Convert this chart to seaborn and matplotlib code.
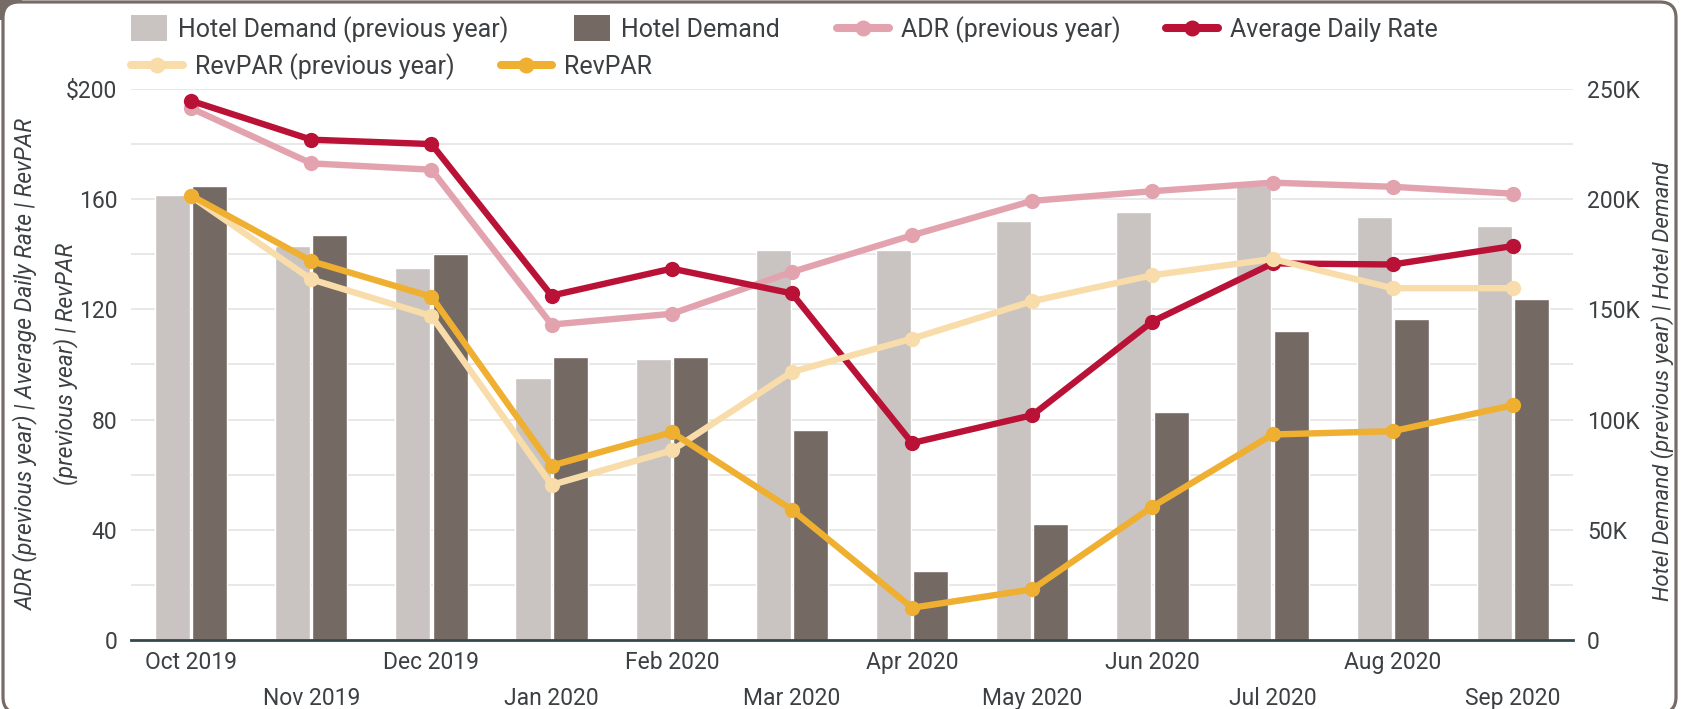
import numpy as np
import pandas as pd
import seaborn as sns
import matplotlib.pyplot as plt
from matplotlib.lines import Line2D
from matplotlib.patches import FancyBboxPatch, Rectangle
from matplotlib.transforms import IdentityTransform
from matplotlib.ticker import FixedLocator, FuncFormatter

months = ['Oct 2019', 'Nov 2019', 'Dec 2019', 'Jan 2020', 'Feb 2020', 'Mar 2020',
          'Apr 2020', 'May 2020', 'Jun 2020', 'Jul 2020', 'Aug 2020', 'Sep 2020']
demandPrev = [201700, 178700, 169000, 119000, 127400, 177000,
              176800, 190000, 194000, 206500, 191900, 188000]
demand = [206000, 183600, 175300, 128400, 128400, 95200,
          31300, 52700, 103500, 140000, 145500, 154800]
adrPrev = [193, 173, 170.7, 114.5, 118.4, 133.6, 146.9, 159.4, 162.9, 166, 164.5, 162]
adr = [195.7, 181.6, 180, 125, 134.8, 125.8, 71.5, 81.6, 115.6, 136.7, 136.3, 143]
revparPrev = [161, 130.9, 117.6, 56.3, 68.8, 97.3, 109.4, 123, 132.4, 138.3, 127.7, 127.7]
revpar = [161.3, 137.5, 124.6, 63.3, 75.4, 47.3, 11.7, 18.4, 48.4, 74.6, 75.8, 85.2]

barNames = ['Hotel Demand (previous year)', 'Hotel Demand']
lineNames = ['ADR (previous year)', 'Average Daily Rate', 'RevPAR (previous year)', 'RevPAR']

barColors = ['#c9c4c1', '#746963']
lineColors = ['#e3a3ae', '#b91236', '#f8ddab', '#efaf30']
textColor = '#3c4043'
frameColor = '#776b65'

sns.set_style('white')
plt.rcParams['font.family'] = ['Roboto', 'DejaVu Sans']

bars = pd.DataFrame({
    'month': months * 2,
    'series': [barNames[0]] * len(months) + [barNames[1]] * len(months),
    'value': demandPrev + demand,
})
lines = pd.DataFrame({
    'pos': list(range(len(months))) * 4,
    'series': sum([[n] * len(months) for n in lineNames], []),
    'value': adrPrev + adr + revparPrev + revpar,
})

fig = plt.figure(figsize=(16.87, 7.09), dpi=100)
fig.patch.set_facecolor('white')

# card frame
fig.add_artist(Rectangle((0, 689), 22, 20, transform=IdentityTransform(),
                         facecolor=frameColor, edgecolor='none', zorder=0))
fig.add_artist(FancyBboxPatch((3, -4), 1673, 711, boxstyle='round,pad=0,rounding_size=16',
                              transform=IdentityTransform(), facecolor='white',
                              edgecolor=frameColor, linewidth=2.3, zorder=0.5))

ax = fig.add_axes([0.0777, 0.0973, 0.8547, 0.7772])
ax2 = ax.twinx()

sns.barplot(data=bars, x='month', y='value', hue='series', palette=barColors,
            width=0.62, gap=0.06, saturation=1, ax=ax2, legend=False)

for name, color in zip(lineNames, lineColors):
    sns.lineplot(data=lines[lines['series'] == name], x='pos', y='value', color=color,
                 linewidth=4.6, marker='o', markersize=11, markeredgewidth=0, ax=ax)

ax.set_zorder(2)
ax2.set_zorder(1)
ax.patch.set_visible(False)

ax.set_xlim(-0.5, len(months) - 0.5)
ax.set_ylim(0, 200)
ax2.set_ylim(0, 250000)

ax.set_xticks(range(len(months)))
ax.set_xticklabels([m if i % 2 == 0 else '\n' + m for i, m in enumerate(months)])
for t in ax.get_xticklabels():
    t.set_linespacing(1.7)

ax.set_yticks([0, 40, 80, 120, 160, 200])
ax.yaxis.set_major_formatter(FuncFormatter(lambda v, p: '$200' if v == 200 else f'{v:.0f}'))
ax2.yaxis.set_major_locator(FixedLocator([0, 50000, 100000, 150000, 200000, 250000]))
ax2.yaxis.set_minor_locator(FixedLocator([25000, 75000, 125000, 175000, 225000]))
ax2.yaxis.set_major_formatter(FuncFormatter(lambda v, p: '0' if v == 0 else f'{v / 1000:.0f}K'))

ax.grid(False)
ax2.grid(False)
ax2.yaxis.grid(True, which='both', color='#e6e6e6', linewidth=1.3)
ax2.set_axisbelow(True)

for a in (ax, ax2):
    for s in a.spines.values():
        s.set_visible(False)
ax.spines['bottom'].set_visible(True)
ax.spines['bottom'].set_color('#37474f')
ax.spines['bottom'].set_linewidth(2)

ax.tick_params(axis='x', length=0, labelsize=16.5, labelcolor=textColor, pad=8)
ax.tick_params(axis='y', length=0, labelsize=16.5, labelcolor=textColor, pad=10)
ax2.tick_params(axis='y', which='both', length=0, labelsize=16.5, labelcolor=textColor, pad=10)

ax.set_xlabel('')
ax.set_ylabel('ADR (previous year) | Average Daily Rate | RevPAR\n(previous year) | RevPAR',
              fontsize=16.5, style='italic', color=textColor, linespacing=1.75)
ax.yaxis.set_label_coords(-0.037, 0.5)
ax2.set_ylabel('Hotel Demand (previous year) | Hotel Demand',
               fontsize=16, style='italic', color=textColor)
ax2.yaxis.set_label_coords(1.054, 0.47)

barVerts = [(-1.375, -1), (1.375, -1), (1.375, 1), (-1.375, 1), (-1.375, -1)]
barHandles = [Line2D([], [], marker=barVerts, markersize=25.6, linestyle='none',
                     color=c, markeredgewidth=0) for c in barColors]
lineHandles = [Line2D([], [], color=c, linewidth=5.8, marker='o', markersize=11.5,
                      markeredgewidth=0) for c in lineColors]

legendOpts = dict(loc='center left', frameon=False, fontsize=18,
                  handletextpad=0.47, borderaxespad=0, borderpad=0,
                  labelcolor=textColor, numpoints=1)
fig.legend(handles=barHandles, labels=barNames, ncol=2, handlelength=1.42,
           columnspacing=2.6, bbox_to_anchor=(0.0778, 0.958), **legendOpts)
fig.legend(handles=lineHandles[:2], labels=lineNames[:2], ncol=2, handlelength=2.07,
           columnspacing=1.85, bbox_to_anchor=(0.4962, 0.958), **legendOpts)
fig.legend(handles=lineHandles[2:], labels=lineNames[2:], ncol=2, handlelength=2.07,
           columnspacing=1.85, bbox_to_anchor=(0.0778, 0.906), **legendOpts)

fig.savefig('out.png', dpi=100)
